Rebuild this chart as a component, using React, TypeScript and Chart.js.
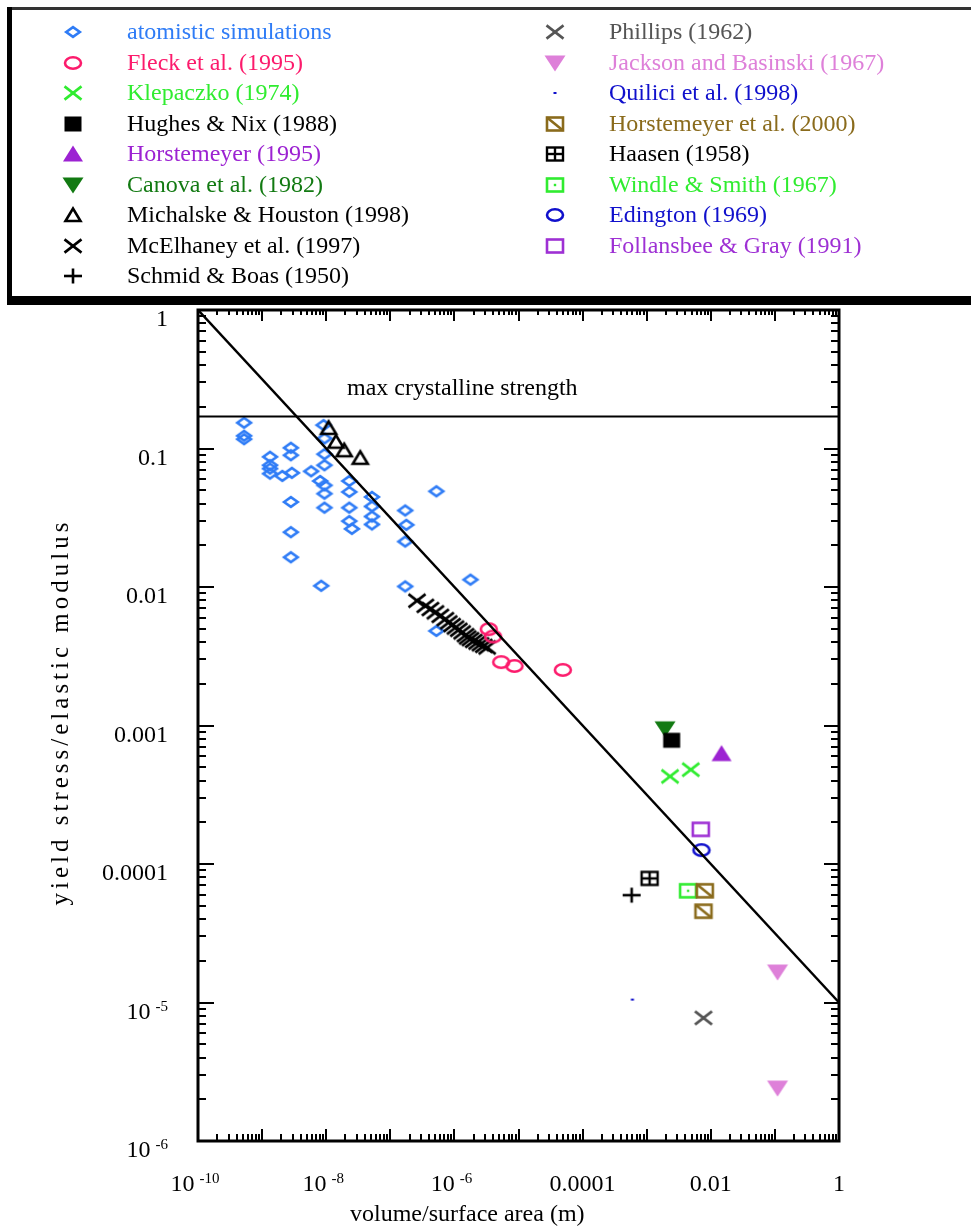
import React, { useEffect, useRef } from 'react';
import { Chart, registerables } from 'chart.js';

Chart.register(...registerables);

const CANVAS_W = 971;
const CANVAS_H = 1228;

// ---------------- data (x = volume/surface area [m], y = yield stress / elastic modulus) ----------------
const atomisticX = [5.24e-10, 5.24e-10, 5.24e-10, 1.33e-9, 1.33e-9, 1.33e-9, 1.33e-9, 2.07e-9, 2.81e-9, 2.81e-9,
  2.91e-9, 2.81e-9, 2.81e-9, 2.81e-9, 5.83e-9, 9.08e-9, 9.4e-9, 9.4e-9, 9.4e-9, 8.05e-9,
  9.4e-9, 9.4e-9, 9.4e-9, 8.36e-9, 2.29e-8, 2.29e-8, 2.29e-8, 2.29e-8, 2.52e-8, 5.18e-8,
  5.18e-8, 5.18e-8, 5.18e-8, 1.71e-7, 1.78e-7, 1.71e-7, 1.71e-7, 5.24e-7, 1.78e-6, 5.24e-7];
const atomisticY = [0.1535, 0.1236, 0.1168, 0.0871, 0.0757, 0.0716, 0.0659, 0.0634, 0.1012, 0.0894,
  0.0667, 0.0411, 0.0249, 0.0164, 0.0685, 0.1476, 0.1181, 0.091, 0.0757, 0.0583,
  0.0542, 0.0472, 0.0374, 0.0102, 0.0583, 0.0486, 0.0374, 0.0299, 0.0263, 0.0447,
  0.0382, 0.0323, 0.0283, 0.0357, 0.0281, 0.0213, 0.0101, 0.0491, 0.0113, 0.00482];

const fleckX = [3.44e-6, 4.02e-6, 5.37e-6, 8.66e-6, 4.92e-5];
const fleckY = [4.96e-3, 4.39e-3, 2.87e-3, 2.69e-3, 2.52e-3];

const klepaczkoX = [2.31e-3, 4.87e-3];
const klepaczkoY = [4.29e-4, 4.8e-4];

const hughesNixX = [2.45e-3];
const hughesNixY = [7.82e-4];

const horstemeyer95X = [0.0147];
const horstemeyer95Y = [6.27e-4];

const canovaX = [1.93e-3];
const canovaY = [9.46e-4];

const michalskeX = [1.09e-8, 1.42e-8, 1.91e-8, 3.4e-8];
const michalskeY = [0.141, 0.112, 0.0972, 0.0857];

const mcElhaneyX = [2.61e-7, 3.52e-7, 4.22e-7, 5.05e-7, 6.04e-7, 7.23e-7, 8.15e-7, 9.2e-7, 1.04e-6, 1.17e-6,
  1.32e-6, 1.49e-6, 1.61e-6, 1.78e-6, 2.0e-6, 2.26e-6, 2.55e-6, 2.87e-6, 3.24e-6];
const mcElhaneyY = [7.96e-3, 7.31e-3, 6.93e-3, 6.56e-3, 6.19e-3, 5.86e-3, 5.55e-3, 5.31e-3, 5.1e-3, 4.91e-3,
  4.7e-3, 4.49e-3, 4.32e-3, 4.2e-3, 4.08e-3, 3.97e-3, 3.86e-3, 3.76e-3, 3.66e-3];

const schmidBoasX = [5.83e-4];
const schmidBoasY = [5.96e-5];

const phillipsX = [7.69e-3];
const phillipsY = [7.74e-6];

const jacksonX = [0.11, 0.11];
const jacksonY = [1.66e-5, 2.41e-6];

const quiliciX = [5.98e-4];
const quiliciY = [1.05e-5];

const horstemeyer00X = [8.06e-3, 7.69e-3];
const horstemeyer00Y = [6.41e-5, 4.56e-5];

const haasenX = [1.11e-3];
const haasenY = [7.87e-5];

const windleX = [4.42e-3];
const windleY = [6.41e-5];

const edingtonX = [7.16e-3];
const edingtonY = [1.26e-4];

const follansbeeX = [6.98e-3];
const follansbeeY = [1.78e-4];

// reference lines
const fitLineX = [1e-10, 1];
const fitLineY = [1, 1e-5];
const maxStrengthX = [1e-10, 1];
const maxStrengthY = [0.17, 0.17];
const maxStrengthLabel = 'max crystalline strength';

// ticks
const xTickValues = [1e-10, 1e-8, 1e-6, 1e-4, 1e-2, 1];
const xTickBase = ['10', '10', '10', '0.0001', '0.01', '1'];
const xTickExp = ['-10', '-8', '-6', '', '', ''];
const yTickValues = [1, 0.1, 0.01, 0.001, 0.0001, 1e-5, 1e-6];
const yTickBase = ['1', '0.1', '0.01', '0.001', '0.0001', '10', '10'];
const yTickExp = ['', '', '', '', '', '-5', '-6'];

const xTitle = 'volume/surface area (m)';
const yTitle = 'yield stress/elastic modulus';

// series table (legend order: first 9 left column, rest right column)
const series = [
  { label: 'atomistic simulations', xs: atomisticX, ys: atomisticY, kind: 'diamond', color: '#2f7cf6', text: '#2f7cf6', order: 100 },
  { label: 'Fleck et al. (1995)', xs: fleckX, ys: fleckY, kind: 'ellipse', color: '#fc1b6c', text: '#fc1b6c', order: 10 },
  { label: 'Klepaczko (1974)', xs: klepaczkoX, ys: klepaczkoY, kind: 'x', color: '#30ec30', text: '#30ec30', order: 10 },
  { label: 'Hughes & Nix (1988)', xs: hughesNixX, ys: hughesNixY, kind: 'fsquare', color: '#000000', text: '#000000', order: 5 },
  { label: 'Horstemeyer (1995)', xs: horstemeyer95X, ys: horstemeyer95Y, kind: 'ftriUp', color: '#9c22d2', text: '#9c22d2', order: 10 },
  { label: 'Canova et al. (1982)', xs: canovaX, ys: canovaY, kind: 'ftriDown', color: '#127a12', text: '#127a12', order: 10 },
  { label: 'Michalske & Houston (1998)', xs: michalskeX, ys: michalskeY, kind: 'triUp', color: '#000000', text: '#000000', order: 10 },
  { label: 'McElhaney et al. (1997)', xs: mcElhaneyX, ys: mcElhaneyY, kind: 'x', color: '#000000', text: '#000000', order: 10 },
  { label: 'Schmid & Boas (1950)', xs: schmidBoasX, ys: schmidBoasY, kind: 'plus', color: '#000000', text: '#000000', order: 10 },
  { label: 'Phillips (1962)', xs: phillipsX, ys: phillipsY, kind: 'x', color: '#555555', text: '#555555', order: 10 },
  { label: 'Jackson and Basinski (1967)', xs: jacksonX, ys: jacksonY, kind: 'ftriDown', color: '#de80d9', text: '#de80d9', order: 10 },
  { label: 'Quilici et al. (1998)', xs: quiliciX, ys: quiliciY, kind: 'dot', color: '#1010cc', text: '#1010cc', order: 10 },
  { label: 'Horstemeyer et al. (2000)', xs: horstemeyer00X, ys: horstemeyer00Y, kind: 'squareDiag', color: '#8a6b1c', text: '#8a6b1c', order: 10 },
  { label: 'Haasen (1958)', xs: haasenX, ys: haasenY, kind: 'squareGrid', color: '#000000', text: '#000000', order: 10 },
  { label: 'Windle & Smith (1967)', xs: windleX, ys: windleY, kind: 'squareDot', color: '#30ec30', text: '#30ec30', order: 10 },
  { label: 'Edington (1969)', xs: edingtonX, ys: edingtonY, kind: 'ellipse', color: '#1010cc', text: '#1010cc', order: 10 },
  { label: 'Follansbee & Gray (1991)', xs: follansbeeX, ys: follansbeeY, kind: 'square', color: '#9e30d4', text: '#9e30d4', order: 10 },
];

const FONT = '"Liberation Serif", "Times New Roman", serif';

function makeMarker(kind: string, color: string): HTMLCanvasElement {
  const c = document.createElement('canvas');
  c.width = 26;
  c.height = 22;
  const g = c.getContext('2d') as CanvasRenderingContext2D;
  const cx = 13;
  const cy = 11;
  g.strokeStyle = color;
  g.fillStyle = color;
  g.lineWidth = 2.6;
  g.lineJoin = 'miter';
  g.lineCap = 'butt';
  const line = (a: number, b: number, c2: number, d: number) => {
    g.beginPath(); g.moveTo(a, b); g.lineTo(c2, d); g.stroke();
  };
  switch (kind) {
    case 'diamond':
      g.beginPath();
      g.moveTo(cx - 6.8, cy); g.lineTo(cx, cy - 4.8); g.lineTo(cx + 6.8, cy); g.lineTo(cx, cy + 4.8);
      g.closePath(); g.stroke();
      break;
    case 'ellipse':
      g.beginPath(); g.ellipse(cx, cy, 8.0, 5.7, 0, 0, Math.PI * 2); g.stroke();
      break;
    case 'x':
      line(cx - 8.5, cy - 6.6, cx + 8.5, cy + 6.6);
      line(cx - 8.5, cy + 6.6, cx + 8.5, cy - 6.6);
      break;
    case 'plus':
      line(cx - 9, cy, cx + 9, cy);
      line(cx, cy - 7.5, cx, cy + 7.5);
      break;
    case 'fsquare':
      g.fillRect(cx - 8.5, cy - 7.5, 17, 15);
      break;
    case 'ftriUp':
      g.beginPath(); g.moveTo(cx - 10, cy + 7.5); g.lineTo(cx + 10, cy + 7.5); g.lineTo(cx, cy - 8.5); g.closePath(); g.fill();
      break;
    case 'ftriDown':
      g.beginPath(); g.moveTo(cx - 10.5, cy - 7.5); g.lineTo(cx + 10.5, cy - 7.5); g.lineTo(cx, cy + 8.5); g.closePath(); g.fill();
      break;
    case 'triUp':
      g.beginPath(); g.moveTo(cx - 7.5, cy + 6); g.lineTo(cx + 7.5, cy + 6); g.lineTo(cx, cy - 6.5); g.closePath(); g.stroke();
      break;
    case 'dot':
      g.fillRect(cx - 1.5, cy - 1, 3, 2);
      break;
    case 'square':
      g.strokeRect(cx - 8, cy - 6.5, 16, 13);
      break;
    case 'squareDiag':
      g.strokeRect(cx - 8, cy - 6.5, 16, 13);
      line(cx - 8, cy - 6.5, cx + 8, cy + 6.5);
      break;
    case 'squareGrid':
      g.lineWidth = 2.4;
      g.strokeRect(cx - 8, cy - 6.5, 16, 13);
      line(cx - 8, cy, cx + 8, cy);
      line(cx, cy - 6.5, cx, cy + 6.5);
      break;
    case 'squareDot':
      g.strokeRect(cx - 8, cy - 6.5, 16, 13);
      g.fillRect(cx - 1.2, cy - 1.2, 2.4, 2.4);
      break;
    default:
      break;
  }
  return c;
}

function drawPow(ctx: CanvasRenderingContext2D, base: string, exp: string, x: number, baseline: number, align: 'center' | 'right') {
  const MAIN = '24px ' + FONT;
  const SUP = '15px ' + FONT;
  ctx.font = MAIN;
  const wb = ctx.measureText(base).width;
  ctx.font = SUP;
  const we = exp ? ctx.measureText(exp).width : 0;
  const gap = exp ? 5 : 0;
  const total = wb + gap + we;
  const left = align === 'center' ? x - total / 2 : x - total;
  ctx.textAlign = 'left';
  ctx.textBaseline = 'alphabetic';
  ctx.font = MAIN;
  ctx.fillText(base, left, baseline);
  if (exp) {
    ctx.font = SUP;
    ctx.fillText(exp, left + wb + gap, baseline - 8);
  }
}

export default function App() {
  const canvasRef = useRef<HTMLCanvasElement | null>(null);

  useEffect(() => {
    const canvas = canvasRef.current;
    if (!canvas) return;
    const images = series.map((s) => makeMarker(s.kind, s.color));

    const datasets: any[] = [
      {
        label: 'fit',
        data: fitLineX.map((x, i) => ({ x, y: fitLineY[i] })),
        showLine: true,
        borderColor: '#000',
        borderWidth: 2.5,
        pointRadius: 0,
        order: 0,
      },
      {
        label: 'max',
        data: maxStrengthX.map((x, i) => ({ x, y: maxStrengthY[i] })),
        showLine: true,
        borderColor: '#000',
        borderWidth: 2,
        pointRadius: 0,
        order: 0,
      },
      ...series.map((s, i) => ({
        label: s.label,
        data: s.xs.map((x, j) => ({ x, y: s.ys[j] })),
        pointStyle: images[i],
        pointRadius: 10,
        pointHoverRadius: 10,
        borderColor: s.color,
        backgroundColor: s.color,
        showLine: false,
        order: s.order,
      })),
    ];

    const decorPlugin = {
      id: 'decor',
      afterDraw(chart: any) {
        const ctx: CanvasRenderingContext2D = chart.ctx;
        const xs = chart.scales.x;
        const ys = chart.scales.y;
        const { left, right, top, bottom } = chart.chartArea;
        ctx.save();
        ctx.strokeStyle = '#000';
        ctx.fillStyle = '#000';
        const seg = (a: number, b: number, c: number, d: number) => {
          ctx.beginPath(); ctx.moveTo(a, b); ctx.lineTo(c, d); ctx.stroke();
        };
        // ticks
        ctx.lineWidth = 2;
        for (let e = -10; e <= 0; e++) {
          for (let m = 1; m <= 9; m++) {
            if (e === 0 && m > 1) break;
            const v = m * Math.pow(10, e);
            const px = Math.round(xs.getPixelForValue(v));
            const major = m === 1;
            seg(px, bottom, px, bottom - (major ? 12 : 7));
            seg(px, top, px, top + (major ? 11 : 5));
          }
        }
        for (let e = -6; e <= 0; e++) {
          for (let m = 1; m <= 9; m++) {
            if (e === 0 && m > 1) break;
            const v = m * Math.pow(10, e);
            const py = Math.round(ys.getPixelForValue(v));
            const major = m === 1;
            seg(left, py, left + (major ? 16 : 8), py);
            seg(right, py, right - (major ? 15 : 8), py);
          }
        }
        // frame
        ctx.lineWidth = 3;
        ctx.strokeRect(left, top, right - left, bottom - top);

        // tick labels
        ctx.fillStyle = '#000';
        xTickValues.forEach((v, i) => {
          const px = xs.getPixelForValue(v);
          drawPow(ctx, xTickBase[i], xTickExp[i], px - (xTickExp[i] ? 3 : 0), bottom + 50, 'center');
        });
        yTickValues.forEach((v, i) => {
          const py = ys.getPixelForValue(v);
          drawPow(ctx, yTickBase[i], yTickExp[i], 168, py + 16, 'right');
        });

        // axis titles
        ctx.font = '24px ' + FONT;
        ctx.textAlign = 'left';
        ctx.textBaseline = 'alphabetic';
        ctx.fillText(xTitle, 350, 1221);
        ctx.save();
        (ctx as any).letterSpacing = '4px';
        ctx.font = '25px ' + FONT;
        const tw = ctx.measureText(yTitle).width;
        ctx.translate(68, 712);
        ctx.rotate(-Math.PI / 2);
        ctx.fillText(yTitle, -tw / 2, 0);
        ctx.restore();

        // max crystalline strength label
        ctx.font = '24px ' + FONT;
        ctx.fillText(maxStrengthLabel, 347, 395);

        // legend box
        ctx.fillStyle = '#333';
        ctx.fillRect(7, 7, CANVAS_W, 3);
        ctx.fillStyle = '#000';
        ctx.fillRect(7, 7, 5, 298);
        ctx.fillRect(7, 296, CANVAS_W, 9);
        // legend entries
        series.forEach((s, i) => {
          const col = i < 9 ? 0 : 1;
          const row = col === 0 ? i : i - 9;
          const ry = 32 + row * 30.5;
          const mx = col === 0 ? 73 : 555;
          const tx = col === 0 ? 127 : 609;
          const img = chart.data.datasets[i + 2].pointStyle;
          ctx.drawImage(img, Math.round(mx - img.width / 2), Math.round(ry - img.height / 2));
          ctx.fillStyle = s.text;
          ctx.font = '24px ' + FONT;
          ctx.textAlign = 'left';
          ctx.fillText(s.label, tx, ry + 7);
        });
        ctx.restore();
      },
    };

    const chart = new Chart(canvas, {
      type: 'scatter',
      data: { datasets },
      options: {
        animation: false,
        responsive: false,
        devicePixelRatio: 1,
        layout: { padding: { left: 198, right: CANVAS_W - 839, top: 310, bottom: CANVAS_H - 1141 } },
        scales: {
          x: { type: 'logarithmic', min: 1e-10, max: 1, display: false },
          y: { type: 'logarithmic', min: 1e-6, max: 1, display: false },
        },
        plugins: {
          legend: { display: false },
          tooltip: { enabled: false },
        },
        events: [],
      },
      plugins: [decorPlugin],
    } as any);

    return () => {
      chart.destroy();
    };
  }, []);

  return (
    <div style={{ position: 'absolute', left: 0, top: 0, width: CANVAS_W, height: CANVAS_H, background: '#fff', overflow: 'hidden' }}>
      <canvas ref={canvasRef} width={CANVAS_W} height={CANVAS_H} style={{ display: 'block' }} />
    </div>
  );
}
